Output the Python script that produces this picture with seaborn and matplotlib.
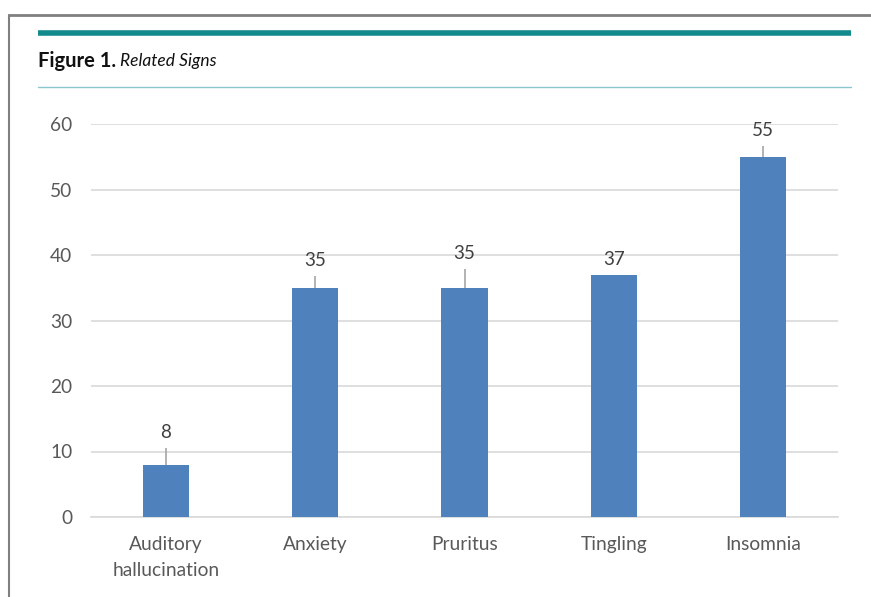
import matplotlib
matplotlib.use("Agg")
import matplotlib.pyplot as plt
from matplotlib.lines import Line2D
import seaborn as sns
import pandas as pd

categories = ["Auditory\nhallucination", "Anxiety", "Pruritus", "Tingling", "Insomnia"]
values = [8, 35, 35, 37, 55]
err_upper = [2.6, 1.8, 2.9, 0.0, 1.7]
yticks = [0, 10, 20, 30, 40, 50, 60]

sns.set_theme(style="white")
plt.rcParams['font.family'] = ['Lato', 'DejaVu Sans']

W, H = 871, 597
fig = plt.figure(figsize=(W / 100, H / 100), dpi=100)
ax = fig.add_axes([91 / W, 1 - 517 / H, (838 - 91) / W, (517 - 124) / H])

df = pd.DataFrame({"cat": categories, "val": values})
sns.barplot(data=df, x="cat", y="val", color="#4f81bd", saturation=1,
            width=0.31, errorbar=None, ax=ax, zorder=3, linewidth=0)

xs = list(range(len(categories)))
ax.errorbar(xs, values, yerr=[[0] * len(values), err_upper], fmt="none",
            ecolor="#a6a6a6", elinewidth=1.2, capsize=0, zorder=2)

for x, v, e in zip(xs, values, err_upper):
    ax.annotate(f"{v}", xy=(x, v + e), xytext=(0, 11), textcoords="offset points",
                ha="center", va="center", fontsize=13.5, color="#404040")

ax.set_ylim(0, 60)
ax.set_xlim(-0.5, len(categories) - 0.5)
ax.set_yticks(yticks)
ax.yaxis.grid(True, color="#d9d9d9", linewidth=1.2, zorder=0)
ax.set_axisbelow(True)
for s in ["top", "right", "left"]:
    ax.spines[s].set_visible(False)
ax.spines["bottom"].set_color("#d9d9d9")
ax.spines["bottom"].set_linewidth(1.2)
ax.tick_params(axis="both", length=0, labelsize=13.8, labelcolor="#595959")
ax.tick_params(axis="y", pad=13.5)
ax.tick_params(axis="x", pad=14)
for lbl in ax.get_xticklabels():
    lbl.set_linespacing(1.6)
ax.set_xlabel("")
ax.set_ylabel("")

# frame and header decorations
fig.add_artist(Line2D([9 / W, 1], [1 - 15 / H, 1 - 15 / H], color="#808080", lw=2))
fig.add_artist(Line2D([9 / W, 9 / W], [0, 1 - 15 / H], color="#808080", lw=1.5))
fig.add_artist(Line2D([38 / W, 851 / W], [1 - 32.5 / H, 1 - 32.5 / H], color="#138a8c", lw=4, solid_capstyle="butt"))
fig.add_artist(Line2D([38 / W, 851 / W], [1 - 87 / H, 1 - 87 / H], color="#8ac6cd", lw=1))

t1 = fig.text(38 / W, 1 - 61 / H, "Figure 1.", fontsize=14.5, fontweight="bold",
              color="#111111", va="center", ha="left")
fig.canvas.draw()
bb = t1.get_window_extent()
fig.text((bb.x1 + 4) / W, 1 - 61 / H, "Related Signs", fontsize=12.5, style="italic",
         color="#111111", va="center", ha="left")

fig.savefig("out.png", dpi=100)
